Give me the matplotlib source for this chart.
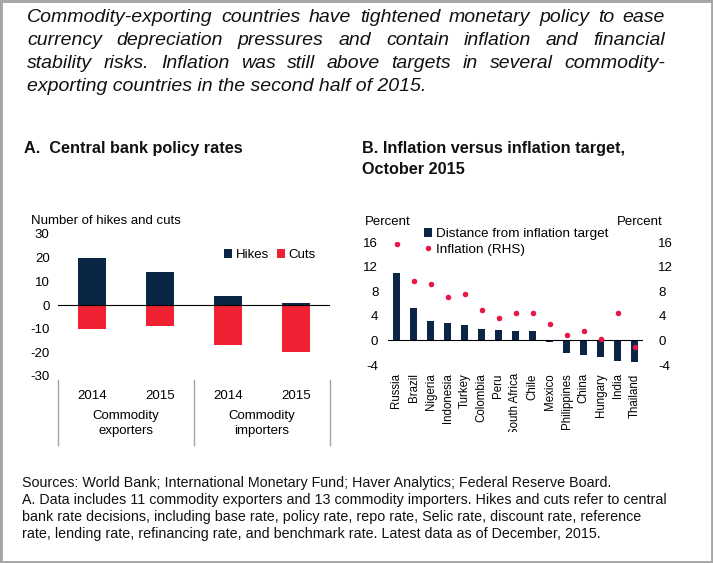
import matplotlib
matplotlib.use("Agg")
import matplotlib.pyplot as plt
from matplotlib.patches import Rectangle
from matplotlib.lines import Line2D
import matplotlib.transforms as mtransforms

# ---------------- data ----------------
groups = ["Commodity\nexporters", "Commodity\nimporters"]
years = ["2014", "2015", "2014", "2015"]
hikes = [20, 14, 4, 1]
cuts = [-10, -9, -17, -20]

countries = ["Russia", "Brazil", "Nigeria", "Indonesia", "Turkey", "Colombia", "Peru",
             "South Africa", "Chile", "Mexico", "Philippines", "China", "Hungary",
             "India", "Thailand"]
distance = [11.0, 5.2, 3.15, 2.9, 2.45, 1.9, 1.7, 1.55, 1.45, -0.3, -2.1, -2.35, -2.75,
            -3.4, -3.5]
inflation = [15.6, 9.7, 9.2, 7.1, 7.5, 4.9, 3.7, 4.5, 4.5, 2.7, 0.85, 1.6, 0.25, 4.5, -1.1]

header_lines = [
    "Commodity-exporting countries have tightened monetary policy to ease",
    "currency depreciation pressures and contain inflation and financial",
    "stability risks. Inflation was still above targets in several commodity-",
    "exporting countries in the second half of 2015.",
]
footer_lines = [
    "Sources: World Bank; International Monetary Fund; Haver Analytics; Federal Reserve Board.",
    "A. Data includes 11 commodity exporters and 13 commodity importers. Hikes and cuts refer to central",
    "bank rate decisions, including base rate, policy rate, repo rate, Selic rate, discount rate, reference",
    "rate, lending rate, refinancing rate, and benchmark rate. Latest data as of December, 2015.",
]

NAVY = "#0B2545"
RED = "#EE2233"
DOT = "#E8174A"
GRAY = "#A6A6A6"

W, H = 713, 563
plt.rcParams["font.family"] = ["Liberation Sans", "DejaVu Sans"]
plt.rcParams["axes.unicode_minus"] = False

fig = plt.figure(figsize=(W / 100, H / 100), dpi=100)


def fx(px):
    return px / W


def fy(py):
    return 1 - py / H


def axes_rect(l, t, r, b):
    return [fx(l), fy(b), fx(r) - fx(l), fy(t) - fy(b)]


# border
fig.patches.append(Rectangle((0, 0), 1, 1, transform=fig.transFigure, fill=False,
                             edgecolor=GRAY, linewidth=3.5))

# ---------------- header (justified) ----------------
renderer = fig.canvas.get_renderer()
x0, x1 = 27, 665
HFS = 14
for i, line in enumerate(header_lines):
    y = fy(18 + i * 22.7)
    if i == len(header_lines) - 1:
        fig.text(fx(x0), y, line, fontsize=HFS, style="italic", va="center", ha="left",
                 color="#111111")
        continue
    words = line.split(" ")
    texts = [fig.text(0, y, w, fontsize=HFS, style="italic", va="center", ha="left",
                      color="#111111") for w in words]
    widths = [t.get_window_extent(renderer).width for t in texts]
    gap = ((x1 - x0) - sum(widths)) / (len(words) - 1)
    x = x0
    for t, wd in zip(texts, widths):
        t.set_x(fx(x))
        x += wd + gap

# ---------------- titles ----------------
TFS = 11.7
fig.text(fx(24), fy(148), "A.  Central bank policy rates", fontsize=TFS, fontweight="bold",
         va="center", ha="left", color="#111111")
fig.text(fx(362), fy(148), "B. Inflation versus inflation target,", fontsize=TFS,
         fontweight="bold", va="center", ha="left", color="#111111")
fig.text(fx(362), fy(170), "October 2015", fontsize=TFS, fontweight="bold",
         va="center", ha="left", color="#111111")

# ---------------- Panel A ----------------
axA = fig.add_axes(axes_rect(58, 234, 330, 376))
xA = list(range(len(years)))
axA.bar(xA, hikes, width=0.4, color=NAVY, label="Hikes")
axA.bar(xA, cuts, width=0.4, color=RED, label="Cuts")
axA.axhline(0, color="black", linewidth=0.8)
axA.set_xlim(-0.5, 3.5)
axA.set_ylim(-30, 30)
axA.set_yticks(range(-30, 31, 10))
axA.tick_params(axis="y", length=0, labelsize=9.5, pad=6)
axA.set_xticks(xA)
axA.set_xticklabels(years)
axA.tick_params(axis="x", length=0, labelsize=9.5, pad=10)
for s in axA.spines.values():
    s.set_visible(False)
trA = mtransforms.blended_transform_factory(axA.transData, axA.transAxes)
for sx in (-0.5, 1.5, 3.5):
    axA.add_line(Line2D([sx, sx], [-0.03, -0.485], transform=trA, color=GRAY,
                        linewidth=1.0, clip_on=False))
for gi, g in enumerate(groups):
    axA.text(gi * 2 + 0.5, -0.24, g, transform=trA, ha="center", va="top",
             fontsize=9.5, linespacing=1.3)
axA.text(-0.1, 1.095, "Number of hikes and cuts", transform=axA.transAxes, fontsize=9.5,
         ha="left", va="center")
axA.legend(loc="upper right", bbox_to_anchor=(0.965, 0.93), ncol=2, frameon=False,
           fontsize=9.5, handlelength=0.6, handleheight=0.6, handletextpad=0.25,
           columnspacing=0.6, borderaxespad=0)

# ---------------- Panel B ----------------
axB = fig.add_axes(axes_rect(388, 242, 643, 365))
xB = list(range(len(countries)))
axB.bar(xB, distance, width=0.38, color=NAVY, label="Distance from inflation target")
axB.axhline(0, color="black", linewidth=0.8)
axB.set_xlim(-0.5, len(countries) - 0.5)
axB.set_ylim(-4, 16)
axB.set_yticks(range(-4, 17, 4))
axB.tick_params(axis="y", length=0, labelsize=9.5, pad=7)
axB.set_xticks(xB)
axB.set_xticklabels(countries, rotation=90)
axB.tick_params(axis="x", length=0, labelsize=8.3, pad=6)
for s in axB.spines.values():
    s.set_visible(False)
# the reference clips the longest label at the bottom
clip = mtransforms.TransformedBbox(
    mtransforms.Bbox.from_extents(0, fy(432), 1, 1), fig.transFigure)
for lab in axB.get_xticklabels():
    lab.set_clip_box(clip)
    lab.set_clip_on(True)

axB2 = axB.twinx()
axB2.plot(xB, inflation, linestyle="none", marker="o", markersize=4, color=DOT,
          markeredgewidth=0, label="Inflation (RHS)")
axB2.set_ylim(-4, 16)
axB2.set_yticks(range(-4, 17, 4))
axB2.tick_params(axis="y", length=0, labelsize=9.5, pad=11)
for s in axB2.spines.values():
    s.set_visible(False)

axB.text(-0.09, 1.16, "Percent", transform=axB.transAxes, fontsize=9.5, ha="left",
         va="center")
axB2.text(1.075, 1.16, "Percent", transform=axB.transAxes, fontsize=9.5, ha="right",
          va="center")

h1, l1 = axB.get_legend_handles_labels()
h2, l2 = axB2.get_legend_handles_labels()
axB2.legend(h1 + h2, l1 + l2, loc="upper left", bbox_to_anchor=(0.12, 1.155),
            frameon=False, fontsize=9.7, handlelength=0.6, handleheight=0.6,
            handletextpad=0.3, labelspacing=0.25, borderaxespad=0)

# ---------------- footer ----------------
for i, line in enumerate(footer_lines):
    fig.text(fx(22), fy(483 + i * 17), line, fontsize=10.3, va="center",
             ha="left", color="#111111")

fig.savefig("out.png", dpi=100)
